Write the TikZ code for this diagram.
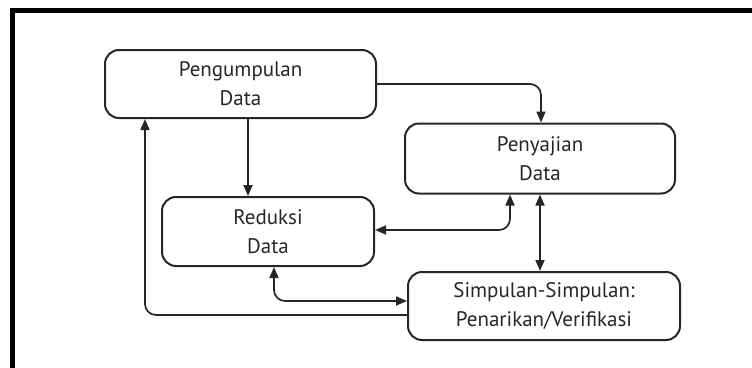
\documentclass[tikz,border=0pt]{standalone}
\usepackage{fontspec}
\setmainfont{PT Sans}
\usetikzlibrary{arrows.meta}
\begin{document}
\begin{tikzpicture}[x=1pt,y=-1pt,
  box/.style={draw=black!85,line width=2pt,rounded corners=14pt,align=center,
    font=\fontsize{21}{29}\selectfont,text=black!85,inner sep=0pt},
  conn/.style={line width=1.7pt,draw=black!85,rounded corners=11pt,
    -{Triangle[length=11pt,width=9pt]}},
  both/.style={conn,{Triangle[length=11pt,width=9pt]}-{Triangle[length=11pt,width=9pt]}}]
\useasboundingbox (0,0) rectangle (752,367);
\begin{scope}
\clip (0,0) rectangle (752,367);
\draw[line width=5pt] (12.5,400) -- (12.5,10.5) -- (800,10.5);
\end{scope}
\node[box,minimum width=271pt,minimum height=68pt] (pd) at (240.5,84) {Pengumpulan\\Data};
\node[box,minimum width=270pt,minimum height=70pt] (sd) at (540,158.5) {Penyajian\\Data};
\node[box,minimum width=212pt,minimum height=69pt] (rd) at (268,231.5) {Reduksi\\Data};
\node[box,minimum width=272pt,minimum height=68pt] (sp) at (544,306) {Simpulan-Simpulan:\\Penarikan/Verifikasi};
\coordinate (c1) at (541,84);
\coordinate (c2) at (510,230);
\coordinate (c3) at (274,301);
\coordinate (c4) at (145,315);
\draw[conn] (pd.east |- c1) -- (c1) -- (sd.north -| c1);
\draw[conn] (pd.south -| 248,0) -- (rd.north -| 248,0);
\draw[both] (rd.east |- c2) -- (c2) -- (sd.south -| c2);
\draw[both] (sd.south -| 540,0) -- (sp.north -| 540,0);
\draw[both] (rd.south -| c3) -- (c3) -- (sp.west |- c3);
\draw[conn] (sp.west |- c4) -- (c4) -- (pd.south -| c4);
\end{tikzpicture}
\end{document}
